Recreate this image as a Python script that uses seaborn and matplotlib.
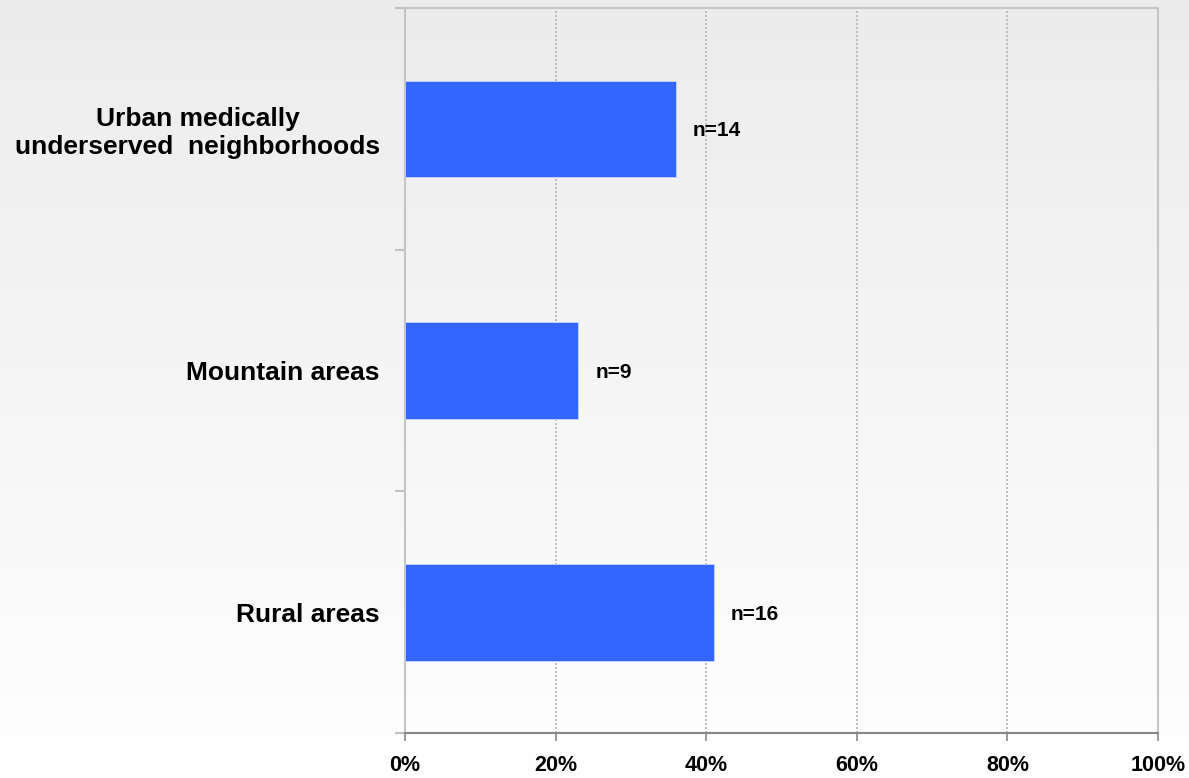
import numpy as np
import pandas as pd
import matplotlib
matplotlib.use("Agg")
import matplotlib.pyplot as plt
import seaborn as sns
from matplotlib.ticker import FixedLocator
from matplotlib.colors import LinearSegmentedColormap

categories = ["Urban medically\nunderserved  neighborhoods", "Mountain areas", "Rural areas"]
values = [36, 23, 41]
counts = ["n=14", "n=9", "n=16"]
xticks = [0, 20, 40, 60, 80, 100]
xticklabels = ["0%", "20%", "40%", "60%", "80%", "100%"]

sns.set_theme(style="white")
plt.rcParams['font.family'] = ['Liberation Sans', 'DejaVu Sans']

df = pd.DataFrame({"cat": categories, "val": values})

fig = plt.figure(figsize=(11.89, 7.78), dpi=100)
# gradient background
bg = fig.add_axes([0, 0, 1, 1], zorder=-10)
grad = np.linspace(0, 1, 256).reshape(-1, 1)
cmap = LinearSegmentedColormap.from_list("bg", ["#ececec", "#ffffff"])
bg.imshow(grad, aspect="auto", cmap=cmap, extent=[0, 1, 0, 1], origin="upper")
bg.set_axis_off()

ax = fig.add_axes([405/1189, 1-733/778, (1158-405)/1189, (733-8)/778])
ax.set_facecolor("none")
sns.barplot(data=df, x="val", y="cat", orient="h", color="#3366ff", saturation=1,
            width=0.4, edgecolor="#c8d2ff", linewidth=0.6, ax=ax, zorder=3)

ax.set_xlim(0, 100)
ax.set_ylim(2.5, -0.5)
ax.set_xlabel("")
ax.set_ylabel("")

ax.set_xticks(xticks)
ax.set_xticklabels(xticklabels, fontsize=15.5, fontweight="bold", color="black")
ax.tick_params(axis="x", direction="out", length=6, width=1.2, color="#888888", pad=10, bottom=True)

ax.set_yticks([0, 1, 2])
ax.set_yticklabels(categories, fontsize=19, fontweight="bold", color="black", ha="right",
                   multialignment="center", linespacing=1.2)
ax.tick_params(axis="y", which="major", length=0, pad=18, left=False)
ax.yaxis.set_minor_locator(FixedLocator([-0.5, 0.5, 1.5, 2.5]))
ax.tick_params(axis="y", which="minor", direction="out", length=7, width=1.5, color="#c0c0c0", left=True)

for x in [20, 40, 60, 80]:
    ax.axvline(x, color="#b4b4b4", linestyle=(0, (1.2, 1.2)), linewidth=1.2, zorder=1)

for s in ["top", "right", "left"]:
    ax.spines[s].set_visible(True)
    ax.spines[s].set_color("#c4c4c4")
    ax.spines[s].set_linewidth(1.5)
ax.spines["bottom"].set_color("#888888")
ax.spines["bottom"].set_linewidth(1.5)

for i, (v, c) in enumerate(zip(values, counts)):
    ax.annotate(c, xy=(v, i), xytext=(17, 0), textcoords="offset pixels",
                ha="left", va="center_baseline", fontsize=15, fontweight="bold", color="black")

fig.savefig("out.png", dpi=100)
